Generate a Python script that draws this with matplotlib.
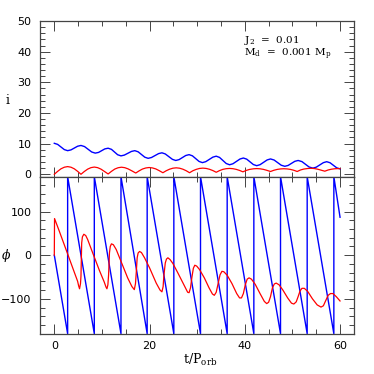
import matplotlib
matplotlib.use("Agg")
import matplotlib.pyplot as plt
from matplotlib.ticker import MultipleLocator

plt.rcParams['mathtext.fontset'] = 'dejavuserif'

# inclination i (top panel)
t_i_blue = [0, 0.7, 1.4, 2.1, 2.8, 3.5, 4.2, 4.9, 5.6, 6.35, 7.1, 7.85, 8.6,
            9.3, 9.95, 10.6, 11.3, 12.0, 12.65, 13.3, 14.0, 14.7, 15.45, 16.2,
            16.9, 17.6, 18.3, 19.0, 19.7, 20.4, 21.15, 21.9, 22.6, 23.3, 24.05,
            24.8, 25.5, 26.2, 26.9, 27.6, 28.3, 29.0, 29.7, 30.4, 31.1, 31.8,
            32.55, 33.3, 34.0, 34.7, 35.4, 36.1, 36.8, 37.5, 38.25, 39.0, 39.7,
            40.4, 41.1, 41.8, 42.5, 43.2, 43.95, 44.7, 45.4, 46.15, 46.9, 47.65,
            48.4, 49.1, 49.8, 50.5, 51.2, 52.0, 52.75, 53.5, 54.3, 55.0, 55.75,
            56.5, 57.2, 57.9, 58.6, 59.3, 60.0]
i_blue = [10.1, 9.75, 8.9, 8.05, 7.7, 7.95, 8.55, 9.15, 9.4, 9.03, 8.15, 7.27, 6.9,
          7.13, 7.7, 8.27, 8.5, 8.13, 7.25, 6.37, 6.0, 6.25, 6.85, 7.45,
          7.7, 7.33, 6.45, 5.57, 5.2, 5.46, 6.1, 6.74, 7.0, 6.63, 5.75,
          4.87, 4.5, 4.78, 5.45, 6.12, 6.4, 6.02, 5.1, 4.18, 3.8, 4.11,
          4.85, 5.59, 5.9, 5.49, 4.5, 3.51, 3.1, 3.42, 4.2, 4.98, 5.3,
          4.93, 4.05, 3.17, 2.8, 3.12, 3.9, 4.68, 5.0, 4.65, 3.8, 2.95,
          2.6, 2.88, 3.55, 4.22, 4.5, 4.13, 3.25, 2.37, 2.0, 2.31, 3.05,
          3.79, 4.1, 3.76, 2.93, 2.1, 1.75]

t_i_red = [0, 0.7, 1.4, 2.1, 2.8, 3.5, 4.2, 4.9, 5.6, 6.3, 7.0, 7.7, 8.4, 9.1,
           9.8, 10.5, 11.3, 12.0, 12.7, 13.4, 14.1, 14.8, 15.5, 16.3, 17.1,
           17.8, 18.5, 19.2, 19.9, 20.6, 21.3, 22.0, 22.8, 23.5, 24.2, 24.9,
           25.6, 26.3, 27.0, 27.7, 28.4, 29.1, 29.8, 30.5, 31.2, 31.9, 32.6,
           33.3, 34.0, 34.7, 35.4, 36.1, 36.8, 37.5, 38.2, 38.9, 39.6, 40.3,
           41.0, 41.8, 42.5, 43.2, 43.9, 44.6, 45.4, 46.1, 46.8, 47.5, 48.2,
           48.9, 49.6, 50.3, 51.0, 51.7, 52.4, 53.2, 53.9, 54.6, 55.3, 56.0,
           56.8, 57.5, 58.2, 58.9, 59.6, 60.0]
i_red = [0.0, 0.95, 1.78, 2.3, 2.5, 2.3, 1.78, 0.95, 0.0, 0.9, 1.67, 2.16, 2.35, 2.16,
         1.67, 0.95, 0.1, 0.95, 1.7, 2.13, 2.3, 2.15, 1.75, 1.1, 0.4,
         1.1, 1.7, 2.05, 2.2, 2.07, 1.75, 1.2, 0.5, 1.15, 1.65, 1.98,
         2.1, 1.98, 1.65, 1.15, 0.5, 1.15, 1.6, 1.9, 2.0, 1.9, 1.62,
         1.2, 0.65, 1.2, 1.6, 1.82, 1.9, 1.82, 1.6, 1.25, 0.8, 1.25,
         1.58, 1.78, 1.85, 1.78, 1.6, 1.3, 0.9, 1.3, 1.58, 1.74, 1.8,
         1.74, 1.58, 1.3, 0.9, 1.4, 1.7, 1.88, 1.95, 1.87, 1.65, 1.35,
         1.0, 1.4, 1.65, 1.8, 1.85, 1.85]

# phase phi (bottom panel)
t_phi_blue = [0, 2.8, 2.8, 8.4, 8.4, 14.0, 14.0, 19.5, 19.5, 25.1, 25.1, 30.7,
              30.7, 36.3, 36.3, 41.9, 41.9, 47.5, 47.5, 53.1, 53.1, 58.7, 58.7, 60.0]
phi_blue = [0, -180, 180, -180, 180, -180, 180, -180, 180, -180, 180, -180,
            180, -180, 180, -180, 180, -180, 180, -180, 180, -180, 180, 87]

t_phi_red = [0, 0.05, 1.05, 2.46, 3.86, 4.9, 5.1, 5.3, 5.5, 5.6, 5.75, 5.9, 6.2,
             6.6, 7.0, 8.07, 9.47, 10.5, 10.85, 11.05, 11.25, 11.4, 11.58, 11.75,
             12.0, 12.4, 13.0, 14.0, 15.4, 16.3, 16.8, 17.05, 17.2, 17.4, 17.6,
             17.9, 18.3, 18.95, 20.0, 21.4, 22.2, 22.6, 22.85, 23.0, 23.3, 23.55,
             23.85, 24.3, 24.9, 25.96, 27.4, 28.0, 28.3, 28.6, 28.9, 29.2, 29.5,
             29.9, 30.5, 31.5, 32.5, 33.2, 33.6, 34.0, 34.4, 34.8, 35.2, 35.6,
             36.3, 37.3, 38.3, 38.9, 39.3, 39.7, 40.1, 40.5, 40.9, 41.4, 42.2,
             43.2, 44.1, 44.6, 45.0, 45.4, 45.8, 46.2, 46.6, 47.2, 48.0, 49.0,
             49.8, 50.3, 50.8, 51.2, 51.6, 52.0, 52.5, 53.2, 54.2, 55.2, 56.0,
             56.5, 57.0, 57.5, 58.0, 58.5, 59.2, 60.0]
phi_red = [0, 84, 55, 13, -29, -60, -70, -77, -65, -48, 28, 42, 48,
           45, 36, 5, -35, -62, -73, -77, -68, -45, 5, 20,
           26, 24, 13, -14, -52, -72, -79, -65, -41, -6, 5,
           8.5, 6, -6, -29, -64, -80, -84, -72, -48, -18, -9,
           -6, -10, -19, -41, -72, -85, -86, -75, -50, -30, -23,
           -25, -33, -52, -75, -89, -92, -85, -65, -45, -37, -38,
           -46, -65, -88, -98, -98, -88, -68, -55, -52, -55, -67,
           -88, -106, -111, -108, -95, -75, -66, -64, -68, -80, -98,
           -110, -112, -107, -95, -82, -76, -76, -83, -100, -114, -119,
           -116, -104, -92, -88, -88, -95, -105]

fig = plt.figure(figsize=(3.74, 3.74), dpi=100)
ax1 = fig.add_axes([0.107, 0.5275, 0.8404, 0.4163])
ax2 = fig.add_axes([0.107, 0.1078, 0.8404, 0.4198])

ax1.plot(t_i_blue, i_blue, color='blue', lw=1.0)
ax1.plot(t_i_red, i_red, color='red', lw=0.9)
ax2.plot(t_phi_blue, phi_blue, color='blue', lw=1.0)
ax2.plot(t_phi_red, phi_red, color='red', lw=0.9)

ax1.set_xlim(-3, 63)
ax1.set_ylim(-0.8, 50)
ax2.set_xlim(-3, 63)
ax2.set_ylim(-180, 180)

for ax in (ax1, ax2):
    ax.xaxis.set_major_locator(MultipleLocator(20))
    ax.xaxis.set_minor_locator(MultipleLocator(5))
    ax.tick_params(which='both', direction='in', top=True, right=True,
                   color='#444444', labelsize=8, width=0.7)
    ax.tick_params(which='major', length=7.5)
    ax.tick_params(which='minor', length=3.5)
    ax.tick_params(axis='y', pad=6)
    ax.tick_params(axis='x', pad=5)
    for s in ax.spines.values():
        s.set_color('#444444')
        s.set_linewidth(0.9)

ax1.yaxis.set_major_locator(MultipleLocator(10))
ax1.yaxis.set_minor_locator(MultipleLocator(2))
ax1.tick_params(labelbottom=False)
ax2.yaxis.set_major_locator(MultipleLocator(100))
ax2.yaxis.set_minor_locator(MultipleLocator(20))

fig.text(8/374, 1 - 100/374, 'i', family='DejaVu Serif', fontsize=9,
         ha='center', va='center')
fig.text(6/374, 1 - 255/374, r'$\phi$', fontsize=9, ha='center', va='center')
fig.text(200/374, 1 - 360/374, r't/P$_{\rm orb}$', family='DejaVu Serif',
         fontsize=9, ha='center', va='center')

ax1.text(0.649, 0.862, r'J$_2$  =  0.01', transform=ax1.transAxes,
         family='DejaVu Serif', fontsize=7.5, va='baseline')
ax1.text(0.649, 0.77, r'M$_{\rm d}$  =  0.001 M$_{\rm p}$', transform=ax1.transAxes,
         family='DejaVu Serif', fontsize=7.5, va='baseline')

fig.savefig('out.png', dpi=100)
